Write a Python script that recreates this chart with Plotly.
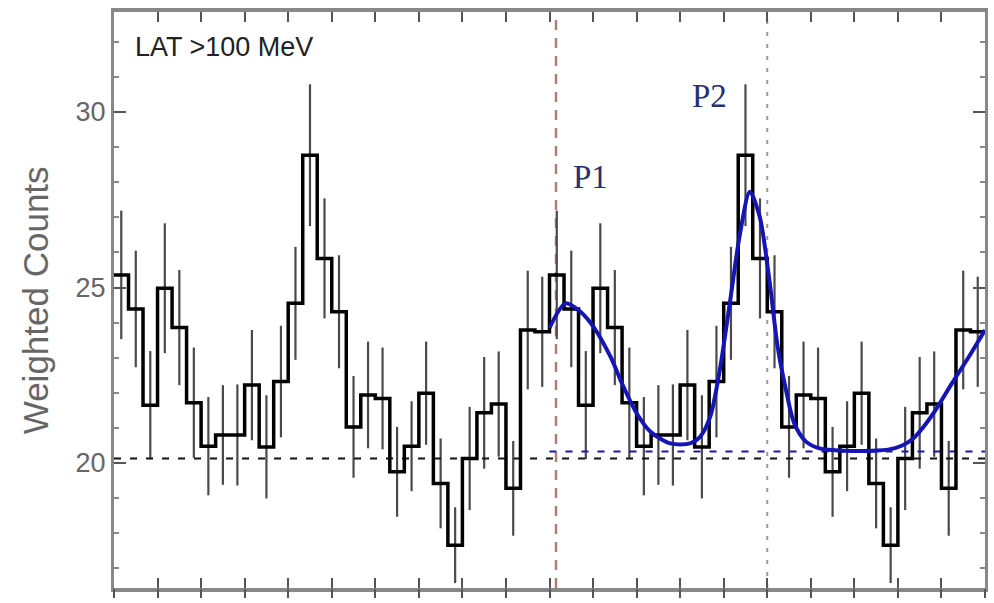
import numpy as np
import plotly.graph_objects as go

# Pulse profile: weighted counts per phase bin (30 bins per rotation, shown twice)
n_bins = 30
counts = [25.36, 24.39, 21.65, 24.98, 23.86, 21.72, 20.48, 20.80, 20.80, 22.22,
          20.46, 22.32, 24.55, 28.77, 25.83, 24.31, 21.03, 21.94, 21.84, 19.75,
          20.48, 21.99, 19.42, 17.66, 20.13, 21.43, 21.68, 19.28, 23.79, 23.74]
errors = [1.83, 1.66, 1.54, 1.85, 1.64, 1.57, 1.40, 1.42, 1.44, 1.57,
          1.47, 1.59, 1.61, 2.02, 1.71, 1.61, 1.45, 1.52, 1.45, 1.28,
          1.28, 1.47, 1.28, 1.08, 1.47, 1.59, 1.50, 1.35, 1.69, 1.57]

# Two-peak fit over the second rotation
fit_phase = [1.000, 1.037, 1.071, 1.101, 1.140, 1.170, 1.200, 1.232, 1.277, 1.323,
             1.346, 1.369, 1.391, 1.414, 1.437, 1.460, 1.483, 1.505, 1.524, 1.543,
             1.562, 1.589, 1.620, 1.680, 1.740, 1.780, 1.810, 1.835, 1.860, 1.886,
             1.924, 1.963, 2.000]
fit_counts = [23.85, 24.55, 24.31, 23.88, 23.03, 22.17, 21.42, 20.89, 20.56, 20.56,
              20.75, 21.32, 22.65, 24.55, 26.50, 27.73, 27.00, 25.20, 23.31, 22.08,
              21.13, 20.61, 20.42, 20.35, 20.35, 20.39, 20.50, 20.70, 21.05, 21.50,
              22.27, 23.03, 23.79]

background = 20.13
fit_background = 20.33
p1_phase = 1.015
p2_phase = 1.500

n_cycles = 2
all_counts = counts * n_cycles
all_errors = errors * n_cycles
edges = np.arange(n_bins * n_cycles + 1) / n_bins
centers = (edges[:-1] + edges[1:]) / 2

fig = go.Figure()

# error bars
fig.add_trace(go.Scatter(
    x=centers, y=all_counts, mode="markers",
    marker=dict(size=0.1, color="rgba(0,0,0,0)"),
    error_y=dict(type="data", array=all_errors, visible=True,
                 color="#4a4a4a", thickness=2.2, width=0),
    hoverinfo="skip", showlegend=False))

# background levels
fig.add_trace(go.Scatter(
    x=[0, 2], y=[background, background], mode="lines",
    line=dict(color="#111111", width=2, dash="7px,9px"),
    hoverinfo="skip", showlegend=False))
fig.add_trace(go.Scatter(
    x=[1.0, 2], y=[fit_background, fit_background], mode="lines",
    line=dict(color="#1a1aa0", width=2, dash="7px,9px"),
    hoverinfo="skip", showlegend=False))

# histogram
fig.add_trace(go.Scatter(
    x=edges, y=all_counts + [all_counts[-1]], mode="lines",
    line=dict(color="#000000", width=3.5, shape="hv"),
    hoverinfo="skip", showlegend=False))

# fit curve
fig.add_trace(go.Scatter(
    x=fit_phase, y=fit_counts, mode="lines",
    line=dict(color="#1515b5", width=4, shape="spline", smoothing=0.8),
    hoverinfo="skip", showlegend=False))

# outward tick marks on the bottom axis
fig.add_trace(go.Scatter(
    x=[0, 2], y=[None, None], xaxis="x2", mode="lines",
    hoverinfo="skip", showlegend=False))

shapes = [
    dict(type="line", xref="x", yref="paper", x0=p1_phase, x1=p1_phase, y0=0, y1=1,
         line=dict(color="#b08078", width=2.5, dash="10px,8px"), layer="below"),
    dict(type="line", xref="x", yref="paper", x0=p2_phase, x1=p2_phase, y0=0, y1=1,
         line=dict(color="#999999", width=2, dash="4px,8px"), layer="below"),
]

annotations = [
    dict(text="LAT >100 MeV", xref="paper", yref="paper", x=0.022, y=0.939,
         xanchor="left", yanchor="middle", showarrow=False,
         font=dict(family="Liberation Sans, Arial", size=27, color="#222222")),
    dict(text="P1", xref="x", yref="y", x=1.05, y=28.15,
         xanchor="left", yanchor="middle", showarrow=False,
         font=dict(family="Liberation Serif, Times New Roman", size=33, color="#283070")),
    dict(text="P2", xref="x", yref="y", x=1.323, y=30.45,
         xanchor="left", yanchor="middle", showarrow=False,
         font=dict(family="Liberation Serif, Times New Roman", size=33, color="#283070")),
    dict(text="Weighted Counts", xref="paper", yref="paper", x=-0.0904, y=0.5,
         xanchor="center", yanchor="middle", textangle=-90, showarrow=False,
         font=dict(family="Liberation Sans, Arial", size=35, color="#666666")),
]

fig.update_layout(
    width=994, height=603,
    margin=dict(l=114, r=6, t=12, b=15),
    paper_bgcolor="white", plot_bgcolor="white",
    shapes=shapes, annotations=annotations,
    xaxis=dict(range=[0, 2], showticklabels=False, showgrid=False, zeroline=False,
               ticks="inside", tick0=0, dtick=0.1, ticklen=10, tickwidth=2,
               tickcolor="#555555", showline=True, linecolor="#888888",
               linewidth=4, mirror="ticks"),
    xaxis2=dict(range=[0, 2], overlaying="x", side="bottom", showticklabels=False,
                showgrid=False, zeroline=False, showline=False,
                ticks="outside", tick0=0, dtick=0.1, ticklen=9, tickwidth=2,
                tickcolor="#555555"),
    yaxis=dict(range=[16.44, 32.85], showgrid=False, zeroline=False,
               tickvals=[20, 25, 30], ticks="inside", ticklen=12, tickwidth=2,
               tickcolor="#555555", showline=True, linecolor="#888888",
               linewidth=3, mirror="ticks",
               tickfont=dict(family="Liberation Sans, Arial", size=27, color="#666666"),
               minor=dict(dtick=1, ticks="inside", ticklen=5, tickcolor="#888888")),
)

fig.write_html("out.html")
